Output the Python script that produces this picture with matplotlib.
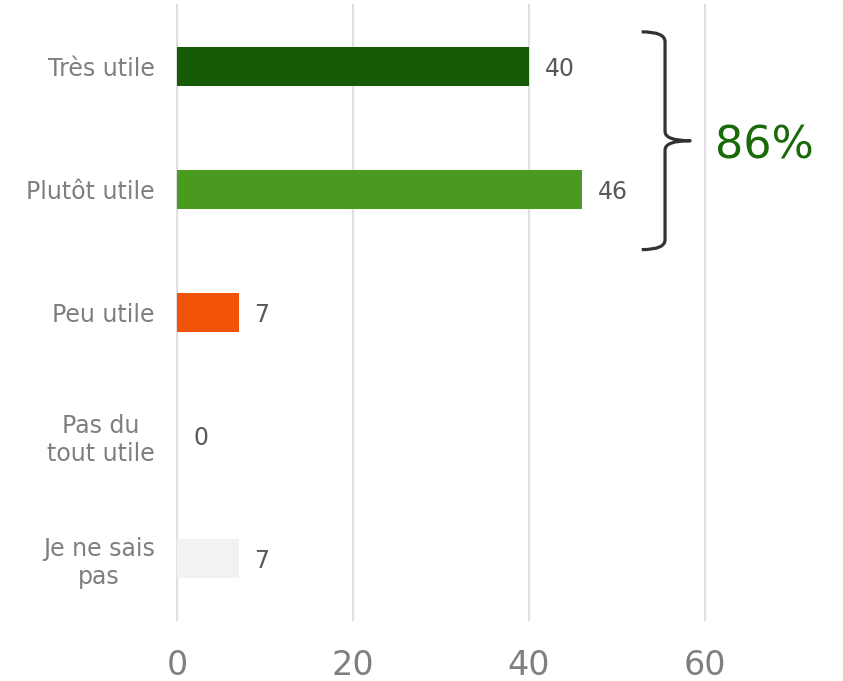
import numpy as np
import matplotlib.pyplot as plt
from matplotlib.path import Path
from matplotlib.patches import PathPatch

categories = ["Très utile", "Plutôt utile", "Peu utile", "Pas du\ntout utile", "Je ne sais\npas"]
values = [40, 46, 7, 0, 7]
colors = ["#165c06", "#4b9a20", "#f25407", "#9bbb59", "#f2f2f2"]
total_label = "86%"

fig = plt.figure(figsize=(8.43, 6.81), dpi=100)
ax = fig.add_axes([0.21, 0.0896, 0.783, 0.9034])

y = np.arange(len(categories))
ax.barh(y, values, height=0.317, color=colors, zorder=3)
ax.set_xlim(0, 75)
ax.set_ylim(len(categories) - 0.5, -0.5)

for i, v in enumerate(values):
    ax.annotate(str(v), (v, i), xytext=(11.5, 0), textcoords="offset points",
                ha="left", va="center_baseline", fontsize=17, color="#595959")

ax.set_yticks(y)
ax.set_yticklabels(categories, fontsize=17, color="#7f7f7f", multialignment="center")
ax.set_xticks([0, 20, 40, 60])
ax.tick_params(axis="x", labelsize=24, labelcolor="#7f7f7f", length=0, pad=21)
ax.tick_params(axis="y", length=0, pad=16)
ax.grid(axis="x", color="#e0e0e0", lw=1.6, zorder=0)
for gl in ax.get_xgridlines():
    gl.set_clip_on(False)
for s in ax.spines.values():
    s.set_visible(False)

# brace around the first two bars
top, bot = y[0] - 0.28, y[1] + 0.49
mid = (top + bot) / 2
xa, xv, xt = 52.8, 55.45, 58.3
verts = [(xa, top), (xv, top), (xv, top + 0.08),
         (xv, mid - 0.075),
         (xv, mid), (xt, mid),
         (xv, mid), (xv, mid + 0.075),
         (xv, bot - 0.08),
         (xv, bot), (xa, bot)]
codes = [Path.MOVETO, Path.CURVE3, Path.CURVE3,
         Path.LINETO,
         Path.CURVE3, Path.CURVE3,
         Path.CURVE3, Path.CURVE3,
         Path.LINETO,
         Path.CURVE3, Path.CURVE3]
ax.add_patch(PathPatch(Path(verts, codes), fill=False, edgecolor="#333333",
                       lw=2.3, capstyle="butt", joinstyle="round", zorder=4))
ax.text(61.1, mid + 0.04, total_label, fontsize=32, color="#1a6a0a",
        ha="left", va="center")

plt.savefig("out.png", dpi=100)
